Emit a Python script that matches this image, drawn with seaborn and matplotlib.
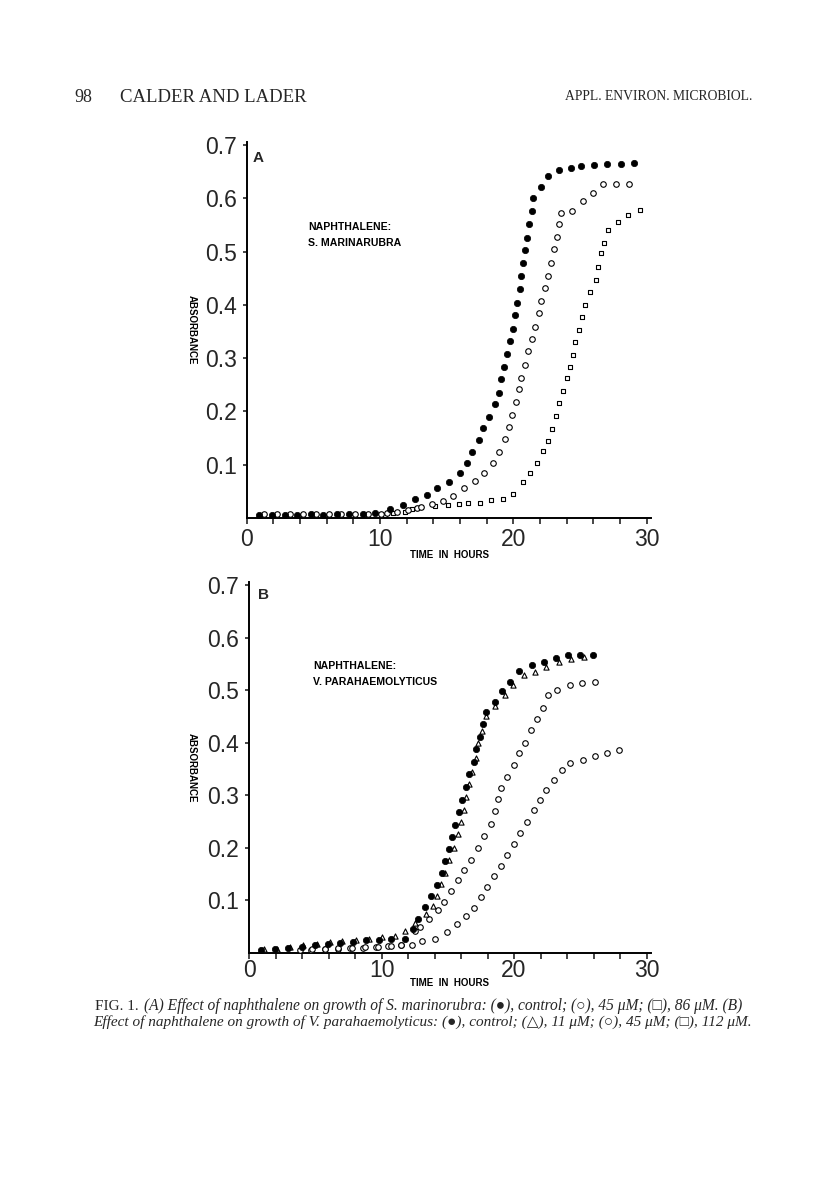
import matplotlib
matplotlib.use("Agg")
import matplotlib.pyplot as plt
import seaborn as sns

# ---- panel A : S. marinorubra ----
a_ctrl_t = [0.95, 1.9, 2.9, 3.8, 4.8, 5.75, 6.75, 7.7, 8.7, 9.6, 10.75, 11.7, 12.6, 13.5, 14.3,
            15.2, 16.0, 16.5, 16.9, 17.4, 17.75, 18.2, 18.6, 18.9, 19.1, 19.3, 19.5, 19.75, 19.95,
            20.15, 20.3, 20.5, 20.55, 20.7, 20.85, 21.0, 21.2, 21.4, 21.5, 22.05, 22.6, 23.4,
            24.3, 25.1, 26.05, 27.05, 28.05, 29.05]
a_ctrl_y = [0.006, 0.006, 0.006, 0.006, 0.007, 0.006, 0.007, 0.007, 0.008, 0.009, 0.016, 0.025,
            0.035, 0.043, 0.056, 0.068, 0.084, 0.103, 0.123, 0.147, 0.169, 0.19, 0.214, 0.235,
            0.26, 0.284, 0.307, 0.332, 0.355, 0.38, 0.404, 0.43, 0.454, 0.478, 0.502, 0.526,
            0.551, 0.576, 0.6, 0.621, 0.642, 0.653, 0.656, 0.66, 0.662, 0.664, 0.665, 0.666]

a_45_t = [1.3, 2.25, 3.25, 4.2, 5.2, 6.2, 7.1, 8.1, 9.1, 10.1, 10.5, 11.25, 12.1, 12.75, 13.1,
          13.9, 14.7, 15.5, 16.3, 17.1, 17.8, 18.5, 18.95, 19.4, 19.7, 19.9, 20.2, 20.4, 20.6,
          20.9, 21.1, 21.4, 21.6, 21.9, 22.1, 22.4, 22.6, 22.8, 23.05, 23.25, 23.4, 23.6, 24.4,
          25.2, 25.95, 26.7, 27.7, 28.65]
a_45_y = [0.007, 0.007, 0.007, 0.007, 0.007, 0.007, 0.007, 0.007, 0.007, 0.008, 0.009, 0.012,
          0.015, 0.018, 0.021, 0.026, 0.032, 0.042, 0.056, 0.069, 0.085, 0.104, 0.124, 0.148,
          0.17, 0.193, 0.217, 0.242, 0.263, 0.288, 0.313, 0.335, 0.359, 0.384, 0.408, 0.431,
          0.455, 0.478, 0.504, 0.528, 0.552, 0.573, 0.577, 0.594, 0.61, 0.626, 0.626, 0.626]

a_86_t = [10.4, 11.0, 11.9, 12.4, 12.75, 13.1, 14.1, 15.1, 15.9, 16.6, 17.5, 18.3, 19.2, 20.0,
          20.7, 21.25, 21.75, 22.25, 22.6, 22.9, 23.2, 23.45, 23.75, 24.0, 24.25, 24.5, 24.6,
          24.9, 25.15, 25.4, 25.75, 26.2, 26.35, 26.6, 26.8, 27.1, 27.85, 28.6, 29.5]
a_86_y = [0.006, 0.009, 0.012, 0.017, 0.018, 0.02, 0.022, 0.024, 0.026, 0.029, 0.029, 0.034,
          0.036, 0.045, 0.068, 0.084, 0.104, 0.125, 0.145, 0.167, 0.192, 0.216, 0.238, 0.262,
          0.283, 0.306, 0.33, 0.353, 0.377, 0.4, 0.424, 0.447, 0.471, 0.497, 0.516, 0.54,
          0.555, 0.568, 0.578]

# ---- panel B : V. parahaemolyticus ----
b_ctrl_t = [0.88, 1.96, 2.96, 3.98, 4.98, 5.98, 6.87, 7.85, 8.86, 9.8, 10.73, 11.79, 12.36,
            12.76, 13.26, 13.77, 14.2, 14.57, 14.82, 15.1, 15.33, 15.58, 15.85, 16.1, 16.36,
            16.6, 16.96, 17.1, 17.4, 17.66, 17.9, 18.54, 19.1, 19.7, 20.4, 21.36, 22.26, 23.14,
            24.07, 25.0, 25.95]
b_ctrl_y = [0.006, 0.007, 0.009, 0.012, 0.015, 0.017, 0.019, 0.021, 0.024, 0.025, 0.027, 0.027,
            0.045, 0.065, 0.088, 0.109, 0.13, 0.152, 0.175, 0.197, 0.221, 0.244, 0.269, 0.292,
            0.316, 0.34, 0.364, 0.388, 0.411, 0.435, 0.459, 0.478, 0.498, 0.515, 0.537, 0.547,
            0.553, 0.562, 0.567, 0.567, 0.567]

b_11_t = [1.1, 2.1, 3.1, 4.1, 5.1, 6.1, 7.05, 8.05, 9.07, 10.05, 11.0, 11.77, 12.5, 13.36, 13.9,
          14.17, 14.47, 14.8, 15.1, 15.45, 15.8, 16.0, 16.2, 16.4, 16.6, 16.86, 17.1, 17.3, 17.6,
          17.9, 18.54, 19.3, 19.9, 20.75, 21.6, 22.4, 23.4, 24.3, 25.3]
b_11_y = [0.007, 0.008, 0.011, 0.015, 0.018, 0.02, 0.022, 0.024, 0.027, 0.03, 0.032, 0.042,
          0.058, 0.074, 0.09, 0.109, 0.131, 0.153, 0.177, 0.2, 0.226, 0.25, 0.272, 0.297, 0.322,
          0.345, 0.371, 0.4, 0.422, 0.45, 0.47, 0.49, 0.51, 0.529, 0.535, 0.545, 0.553, 0.56,
          0.564]

b_45_t = [3.85, 4.73, 5.74, 6.74, 7.75, 8.75, 9.76, 10.7, 11.5, 12.5, 12.9, 13.6, 14.24, 14.74,
          15.25, 15.75, 16.25, 16.75, 17.3, 17.75, 18.3, 18.6, 18.8, 19.0, 19.5, 20.0, 20.4,
          20.8, 21.3, 21.7, 22.2, 22.55, 23.25, 24.2, 25.1, 26.1]
b_45_y = [0.006, 0.007, 0.008, 0.009, 0.01, 0.011, 0.012, 0.013, 0.015, 0.041, 0.049, 0.065,
          0.082, 0.097, 0.117, 0.138, 0.158, 0.177, 0.2, 0.222, 0.245, 0.27, 0.293, 0.313,
          0.335, 0.357, 0.38, 0.4, 0.424, 0.445, 0.466, 0.49, 0.5, 0.51, 0.513, 0.515]

b_112_t = [4.7, 5.7, 6.7, 7.6, 8.6, 9.55, 10.5, 11.46, 12.3, 13.08, 14.04, 14.92, 15.67, 16.38,
           16.98, 17.49, 17.98, 18.49, 19.02, 19.5, 20.0, 20.48, 20.98, 21.48, 21.93, 22.4,
           23.0, 23.64, 24.25, 25.2, 26.13, 27.03, 27.96]
b_112_y = [0.006, 0.007, 0.008, 0.009, 0.01, 0.012, 0.013, 0.015, 0.015, 0.023, 0.026, 0.039,
           0.055, 0.07, 0.086, 0.106, 0.126, 0.147, 0.166, 0.186, 0.208, 0.229, 0.25, 0.272,
           0.292, 0.31, 0.329, 0.348, 0.361, 0.368, 0.375, 0.381, 0.387]

x_ticks = list(range(0, 31, 2))
y_ticks = [0.1, 0.2, 0.3, 0.4, 0.5, 0.6, 0.7]

sns.set_style("ticks")
plt.rcParams["font.family"] = ["Liberation Sans", "DejaVu Sans"]

W, H = 816, 1193
fig = plt.figure(figsize=(W / 100, H / 100), dpi=100)


def fx(px):
    return px / W


def fy(py):
    return 1 - py / H


def style_axis(ax, xpad):
    sns.despine(ax=ax)
    ax.set_xlim(0, 30.3)
    ax.set_ylim(0, 0.705)
    for s in ["left", "bottom"]:
        ax.spines[s].set_linewidth(1.4)
        ax.spines[s].set_color("black")
    ax.set_xticks(x_ticks)
    ax.set_xticklabels([str(t) if t % 10 == 0 else "" for t in x_ticks])
    ax.set_yticks(y_ticks)
    ax.set_yticklabels([f"{v:.1f}" for v in y_ticks])
    ax.tick_params(axis="x", direction="out", length=4, width=1.2, pad=xpad, labelsize=16.5)
    ax.tick_params(axis="y", direction="out", length=3, width=1.2, pad=4, labelsize=16.5)
    ax.set_xlabel("")
    ax.set_ylabel("")
    ax.patch.set_alpha(0)


filled = dict(color="black", edgecolor="black", s=21, linewidth=0.5, zorder=4)
hollow = dict(facecolor="white", edgecolor="black", s=16, linewidth=0.8, zorder=3)
small_sq = dict(marker="s", facecolor="white", edgecolor="black", s=10, linewidth=0.8, zorder=3)
tri = dict(marker="^", facecolor="white", edgecolor="black", s=14, linewidth=0.8, zorder=3)

# panel A
axA = fig.add_axes([fx(246.7), fy(518), (650.7 - 246.7) / W, (518 - 142.3) / H])
sns.scatterplot(x=a_86_t, y=a_86_y, ax=axA, **small_sq)
sns.scatterplot(x=a_45_t, y=a_45_y, ax=axA, marker="o", **hollow)
sns.scatterplot(x=a_ctrl_t, y=a_ctrl_y, ax=axA, marker="o", **filled)
style_axis(axA, 3)

# panel B
axB = fig.add_axes([fx(249), fy(953), (650.5 - 249) / W, (953 - 582.4) / H])
sns.scatterplot(x=b_112_t, y=b_112_y, ax=axB, marker="o", **hollow)
sns.scatterplot(x=b_45_t, y=b_45_y, ax=axB, marker="o", **hollow)
sns.scatterplot(x=b_11_t, y=b_11_y, ax=axB, **tri)
sns.scatterplot(x=b_ctrl_t, y=b_ctrl_y, ax=axB, marker="o", **filled)
style_axis(axB, 0.5)

# panel annotations
small = dict(fontsize=7.6, fontweight="bold", color="black")
axis_lab = dict(fontsize=7.0, fontweight="bold", color="black")
fig.text(fx(253), fy(158), "A", fontsize=11, fontweight="bold", va="center")
fig.text(fx(308), fy(227), "NAPHTHALENE:", va="center", **small)
fig.text(fx(308), fy(243), "S. MARINARUBRA", va="center", **small)
fig.text(fx(192), fy(330), "ABSORBANCE", rotation=270, ha="center", va="center", **axis_lab)
fig.text(fx(449), fy(555), "TIME  IN  HOURS", ha="center", va="center", **axis_lab)

fig.text(fx(258), fy(595), "B", fontsize=11, fontweight="bold", va="center")
fig.text(fx(313), fy(666), "NAPHTHALENE:", va="center", **small)
fig.text(fx(313), fy(682), "V. PARAHAEMOLYTICUS", va="center", **small)
fig.text(fx(192), fy(768), "ABSORBANCE", rotation=270, ha="center", va="center", **axis_lab)
fig.text(fx(449), fy(983), "TIME  IN  HOURS", ha="center", va="center", **axis_lab)

# page header
serif = ["Liberation Serif", "DejaVu Serif", "DejaVu Sans"]
fig.text(fx(74), fy(97), "98", family=serif, fontsize=13, va="center")
fig.text(fx(120), fy(97), "CALDER AND LADER", family=serif, fontsize=13.5, va="center")
fig.text(fx(752), fy(97), "APPL. ENVIRON. MICROBIOL.", family=serif, fontsize=9.8,
         ha="right", va="center")

# caption
fig.text(fx(95), fy(1006), "FIG. 1.", family=serif, fontsize=11, va="center")
fig.text(fx(144), fy(1006),
         "(A) Effect of naphthalene on growth of S. marinorubra: (\u25cf), control; (\u25cb), 45 \u03bcM; "
         "(\u25a1), 86 \u03bcM. (B)",
         family=serif, style="italic", fontsize=11.2, ha="left", va="center")
fig.text(fx(752), fy(1022),
         "Effect of naphthalene on growth of V. parahaemolyticus: (\u25cf), control; (\u25b3), 11 \u03bcM; "
         "(\u25cb), 45 \u03bcM; (\u25a1), 112 \u03bcM.",
         family=serif, style="italic", fontsize=11, ha="right", va="center")

fig.savefig("out.png", dpi=100)
